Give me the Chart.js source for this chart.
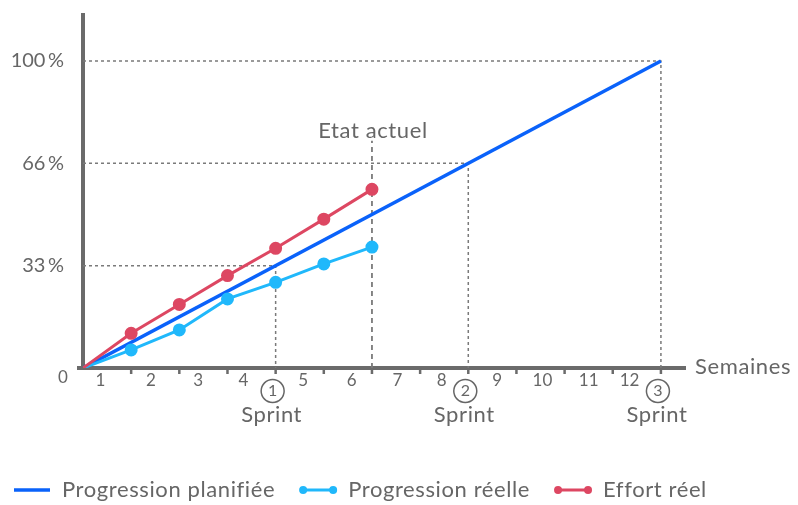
<!DOCTYPE html>
<html lang="fr">
<head>
<meta charset="UTF-8">
<title>Progression</title>
<script src="https://cdn.jsdelivr.net/npm/chart.js"></script>
<style>
  body { margin: 0; background: #fff; }
  .wrap { width: 798px; height: 505px; position: relative; }
</style>
</head>
<body>
<div class="wrap"><canvas id="chart"></canvas></div>
<script>
  // data
  const weeks = [0, 1, 2, 3, 4, 5, 6];
  const planWeeks = [0, 12];
  const planValues = [0, 100];
  const reelleValues = [0, 5.9, 12.4, 22.5, 27.9, 33.9, 39.4];
  const effortValues = [0, 11.3, 20.7, 30.1, 39.0, 48.5, 58.2];

  // week labels sit between the tick marks (nudged away from the sprint circles)
  const xTickVals = [0.36, 1.41, 2.39, 3.33, 4.57, 5.58, 6.53, 7.45, 8.6, 9.54, 10.5, 11.35];
  const xTickLabels = ['1', '2', '3', '4', '5', '6', '7', '8', '9', '10', '11', '12'];
  const yTickVals = [100 / 3, 200 / 3, 100];
  const yTickLabels = ['33\u2009%', '66\u2009%', '100\u2009%'];

  const sprintWeeks = [4, 8, 12];
  const sprintLevels = [100 / 3, 200 / 3, 100];
  const sprintNums = ['1', '2', '3'];
  const currentWeek = 6;
  const currentTop = 74;

  const GREY = '#6b6b6b';
  const TEXT = '#666666';
  const FONT = 'Lato, "Open Sans", sans-serif';

  const pts = (xs, ys) => xs.map((x, i) => ({ x: x, y: ys[i] }));

  const refSets = sprintWeeks.map((w, i) => ({
    data: [{ x: 0, y: sprintLevels[i] }, { x: w, y: sprintLevels[i] }, { x: w, y: 0 }],
    borderColor: '#7a7a7a', borderWidth: 1.5, borderDash: [3, 3],
    pointRadius: 0, order: 10
  }));
  refSets.push({
    data: [{ x: currentWeek, y: 0 }, { x: currentWeek, y: currentTop }],
    borderColor: '#7a7a7a', borderWidth: 1.8, borderDash: [5, 4],
    pointRadius: 0, order: 10
  });

  const mainSets = [
    { label: 'Progression planifiée', data: pts(planWeeks, planValues),
      borderColor: '#0a62fa', borderWidth: 3.5, pointRadius: 0, order: 3, legend: 'line' },
    { label: 'Progression réelle', data: pts(weeks, reelleValues),
      borderColor: '#20b8fb', backgroundColor: '#20b8fb', borderWidth: 3,
      pointRadius: c => c.dataIndex === 0 ? 0 : 5, order: 2, legend: 'dots' },
    { label: 'Effort réel', data: pts(weeks, effortValues),
      borderColor: '#dd4762', backgroundColor: '#dd4762', borderWidth: 3,
      pointRadius: c => c.dataIndex === 0 ? 0 : 5, order: 1, legend: 'dots' }
  ];

  const overlay = {
    id: 'overlay',
    afterDraw(chart) {
      const ctx = chart.ctx;
      const x = chart.scales.x, y = chart.scales.y;
      const y0 = y.getPixelForValue(0);
      ctx.save();
      // small tick marks under the axis
      ctx.strokeStyle = GREY;
      ctx.lineWidth = 2.5;
      for (let k = 1; k <= 12; k++) {
        const px = x.getPixelForValue(k);
        ctx.beginPath(); ctx.moveTo(px, y0); ctx.lineTo(px, y0 + 6); ctx.stroke();
      }
      // left stub of the x axis
      ctx.lineWidth = 4;
      ctx.beginPath(); ctx.moveTo(x.left - 6, y0); ctx.lineTo(x.left, y0); ctx.stroke();

      ctx.fillStyle = TEXT;
      ctx.textAlign = 'center';
      ctx.textBaseline = 'middle';
      ctx.font = '17px ' + FONT;
      ctx.fillText('0', x.left - 20, y0 + 10);

      ctx.letterSpacing = '0.6px';
      ctx.textAlign = 'left';
      ctx.font = '22px ' + FONT;
      ctx.fillText('Semaines', x.right + 10, y0 - 1);

      ctx.textAlign = 'center';
      ctx.fillText('Etat actuel', x.getPixelForValue(currentWeek) + 1, y.getPixelForValue(currentTop) - 10);

      // sprint markers
      sprintWeeks.forEach((w, i) => {
        const px = x.getPixelForValue(w) - 3;
        ctx.strokeStyle = TEXT;
        ctx.lineWidth = 1.5;
        ctx.fillStyle = '#fff';
        ctx.beginPath(); ctx.arc(px, y0 + 23, 11.5, 0, Math.PI * 2); ctx.fill(); ctx.stroke();
        ctx.fillStyle = TEXT;
        ctx.letterSpacing = '0px';
        ctx.font = '16px ' + FONT;
        ctx.fillText(sprintNums[i], px, y0 + 23);
        ctx.letterSpacing = '0.6px';
        ctx.font = '22px ' + FONT;
        ctx.fillText('Sprint', px - 1, y0 + 47);
      });

      // legend
      let lx = 14;
      const ly = 490;
      ctx.textAlign = 'left';
      ctx.font = '22px ' + FONT;
      chart.data.datasets.filter(d => d.legend).forEach(d => {
        ctx.strokeStyle = d.borderColor;
        ctx.lineWidth = d.legend === 'line' ? 3.5 : 3;
        ctx.beginPath(); ctx.moveTo(lx, ly); ctx.lineTo(lx + 36, ly); ctx.stroke();
        if (d.legend === 'dots') {
          ctx.fillStyle = d.borderColor;
          [lx + 3, lx + 33].forEach(cx => {
            ctx.beginPath(); ctx.arc(cx, ly, 4, 0, Math.PI * 2); ctx.fill();
          });
        }
        ctx.fillStyle = TEXT;
        ctx.fillText(d.label, lx + 48, ly);
        lx += 48 + ctx.measureText(d.label).width + 25;
      });
      ctx.restore();
    }
  };

  new Chart(document.getElementById('chart'), {
    type: 'line',
    data: { datasets: refSets.concat(mainSets) },
    options: {
      responsive: true,
      maintainAspectRatio: false,
      animation: false,
      layout: { padding: { top: 15, right: 113, bottom: 107, left: 0 } },
      plugins: { legend: { display: false }, tooltip: { enabled: false } },
      elements: { line: { tension: 0 } },
      scales: {
        x: {
          type: 'linear', min: 0, max: 12.5,
          grid: { display: false, drawTicks: false },
          border: { display: true, color: GREY, width: 4 },
          afterBuildTicks: s => { s.ticks = xTickVals.map(v => ({ value: v })); },
          afterFit: s => { s.height = 30; s.paddingLeft = 0; s.paddingRight = 0; },
          ticks: {
            autoSkip: false, maxRotation: 0, padding: 2,
            color: TEXT, font: { size: 17, family: FONT },
            callback: (v, i) => xTickLabels[i]
          }
        },
        y: {
          min: 0, max: 115,
          grid: { display: false, drawTicks: false },
          border: { display: true, color: GREY, width: 4 },
          afterBuildTicks: s => { s.ticks = yTickVals.map(v => ({ value: v })); },
          afterFit: s => { s.width = 83; s.paddingTop = 0; s.paddingBottom = 0; },
          ticks: {
            padding: 19, color: TEXT, font: { size: 20, family: FONT },
            callback: (v, i) => yTickLabels[i]
          }
        }
      }
    },
    plugins: [overlay]
  });
</script>
</body>
</html>
